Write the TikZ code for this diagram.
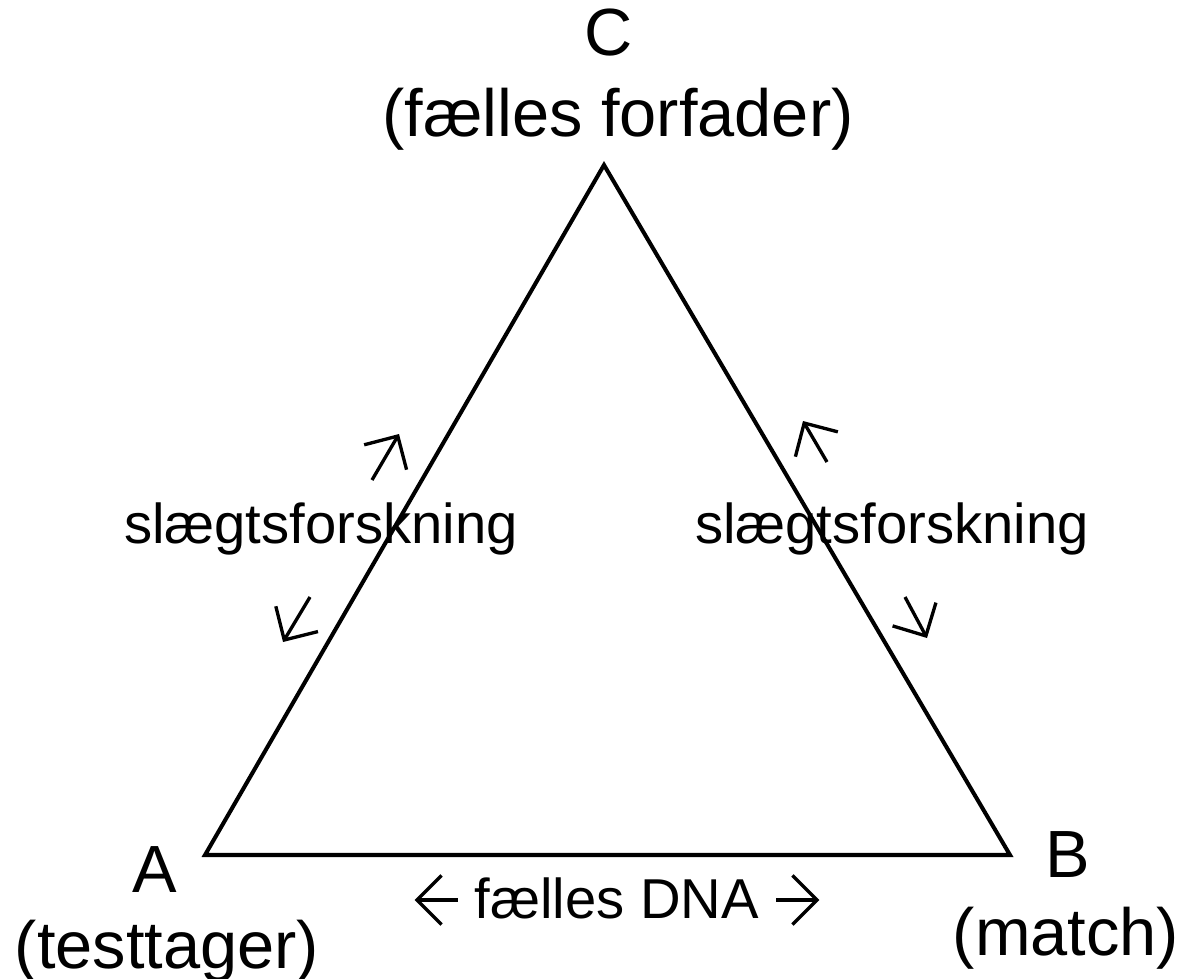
\documentclass[tikz,border=0pt]{standalone}
\usepackage{fontspec}
\setmainfont{Liberation Sans}
\usetikzlibrary{arrows.meta}

\tikzset{
  big/.style={font=\fontsize{38}{46}\selectfont, anchor=base},
  small/.style={font=\fontsize{32}{38}\selectfont, anchor=base},
  barb/.style={line width=1.9pt, >={Straight Barb[length=14pt,width=28pt]}},
  hint/.style={barb, ->}
}
% arrow set in a line of text
\newcommand\textarrow[1]{\tikz[baseline=-0.36cm]\draw[barb, #1] (0cm,0cm) -- (0.86cm,0cm);}

\begin{document}
\begin{tikzpicture}[x=0.02cm, y=-0.02cm]
  \useasboundingbox (0,0) rectangle (1186,978);
  % corners
  \coordinate (a) at (205,855);
  \coordinate (b) at (1010,855);
  \coordinate (c) at (604,165);
  \draw[line width=2.3pt, line join=miter] (a) -- (b) -- (c) -- cycle;

  \node[big] (cname) at (609,55) {C};
  \node[big] (cnote) at (618,136) {(fælles forfader)};
  \node[big] (aname) at (155,892) {A};
  \node[big] (anote) at (167,968) {(testtager)};
  \node[big] (bname) at (1068,877) {B};
  \node[big] (bnote) at (1066,955) {(match)};

  \node[small] (left) at (321,543) {slægtsforskning};
  \node[small] (right) at (892,543) {slægtsforskning};
  \node[small] (dna) at (617,918) {\textarrow{<-} fælles DNA \textarrow{->}};

  % little arrows along the sides
  \draw[hint] (372,480) -- (399,434);
  \draw[hint] (310,597) -- (283,642);
  \draw[hint] (827,462) -- (803,421);
  \draw[hint] (905,597) -- (927,638);
\end{tikzpicture}
\end{document}
